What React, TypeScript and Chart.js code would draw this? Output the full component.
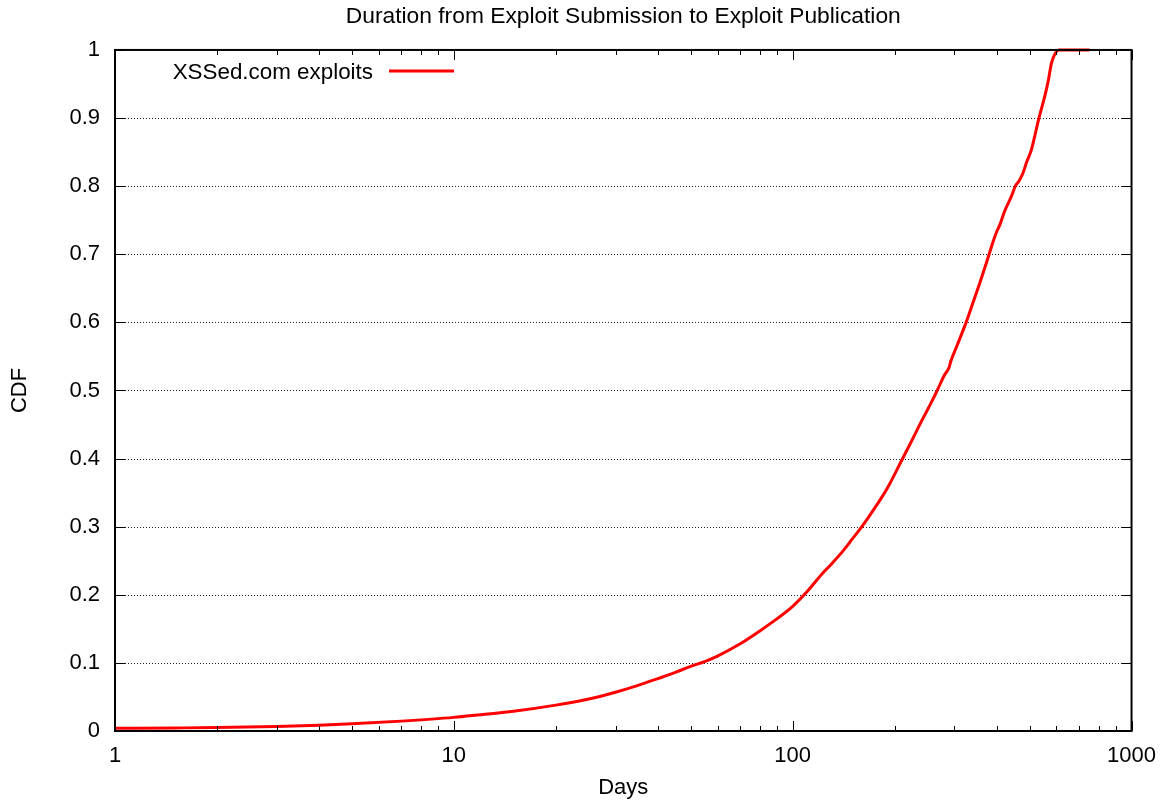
import React, { useEffect, useRef } from "react";
import Chart from "chart.js/auto";

const chartTitle = "Duration from Exploit Submission to Exploit Publication";
const seriesLabel = "XSSed.com exploits";
const xAxisTitle = "Days";
const yAxisTitle = "CDF";

const days = [1, 1.5, 2, 3, 4, 5, 7, 10, 12, 15, 20, 25, 30, 35, 40, 45, 50, 55, 60, 70, 80, 90, 100, 110, 121, 122, 130, 140, 150, 160, 175, 190, 210, 225, 240, 255, 267, 280, 290, 292, 305, 325, 340, 355, 370, 380, 390, 400, 410, 422, 442, 454, 466, 478, 490, 506, 520, 533, 554, 568, 580, 589, 600, 610, 752];
const cdf = [0.004, 0.0045, 0.005, 0.0065, 0.0085, 0.0105, 0.0145, 0.02, 0.024, 0.029, 0.038, 0.047, 0.057, 0.067, 0.077, 0.086, 0.095, 0.102, 0.11, 0.128, 0.147, 0.165, 0.183, 0.204, 0.2285, 0.2305, 0.245, 0.263, 0.282, 0.3, 0.328, 0.356, 0.398, 0.427, 0.455, 0.48, 0.5, 0.522, 0.535, 0.541, 0.565, 0.6, 0.628, 0.655, 0.682, 0.7, 0.718, 0.733, 0.745, 0.763, 0.785, 0.8, 0.808, 0.819, 0.835, 0.853, 0.877, 0.9, 0.931, 0.955, 0.98, 0.99, 0.9975, 1.0, 1.0];

const xDecades = [1, 10, 100, 1000];
const yTickValues = [0, 0.1, 0.2, 0.3, 0.4, 0.5, 0.6, 0.7, 0.8, 0.9, 1];

const FONT = "'Liberation Sans', Arial, Helvetica, sans-serif";
const RED = "#ff0000";

const framePlugin = {
  id: "gnuplotFrame",
  beforeDatasetsDraw(chart: any) {
    const { ctx, chartArea } = chart;
    const { left, right } = chartArea;
    const ys = chart.scales.y;
    ctx.save();
    ctx.strokeStyle = "#222";
    ctx.lineWidth = 1;
    ctx.setLineDash([1, 2]);
    for (const v of yTickValues) {
      if (v === 0 || v === 1) continue;
      const py = Math.round(ys.getPixelForValue(v)) + 0.5;
      ctx.beginPath();
      ctx.moveTo(left + 10, py);
      ctx.lineTo(right, py);
      ctx.stroke();
    }
    ctx.restore();
  },
  afterDraw(chart: any) {
    const { ctx, chartArea } = chart;
    const { left, right, top, bottom } = chartArea;
    const xs = chart.scales.x;
    const ys = chart.scales.y;
    ctx.save();
    ctx.strokeStyle = "#000";
    ctx.lineWidth = 1;
    const major = 10;
    const minor = 5;
    for (let i = 0; i < xDecades.length; i++) {
      const d = xDecades[i];
      for (let m = 1; m <= 9; m++) {
        if (m > 1 && i === xDecades.length - 1) break;
        const v = d * m;
        const px = Math.round(xs.getPixelForValue(v)) + 0.5;
        const len = m === 1 ? major : minor;
        ctx.beginPath();
        ctx.moveTo(px, bottom);
        ctx.lineTo(px, bottom - len);
        ctx.moveTo(px, top);
        ctx.lineTo(px, top + len);
        ctx.stroke();
      }
    }
    for (const v of yTickValues) {
      const py = Math.round(ys.getPixelForValue(v)) + 0.5;
      ctx.beginPath();
      ctx.moveTo(left, py);
      ctx.lineTo(left + major, py);
      ctx.moveTo(right, py);
      ctx.lineTo(right - major, py);
      ctx.stroke();
    }
    ctx.lineWidth = 2;
    ctx.strokeRect(left, top, right - left, bottom - top);
    ctx.font = `22.4px ${FONT}`;
    ctx.fillStyle = "#000";
    ctx.textAlign = "right";
    ctx.textBaseline = "middle";
    ctx.fillText(seriesLabel, left + 258, top + 23);
    ctx.strokeStyle = RED;
    ctx.lineWidth = 3;
    ctx.beginPath();
    ctx.moveTo(left + 274, top + 21);
    ctx.lineTo(left + 339, top + 21);
    ctx.stroke();
    ctx.restore();
  },
};

export default function App() {
  const ref = useRef<HTMLCanvasElement | null>(null);
  useEffect(() => {
    document.body.style.margin = "0";
    const canvas = ref.current;
    if (!canvas) return;
    const chart = new Chart(canvas, {
      type: "line",
      data: {
        datasets: [
          {
            label: seriesLabel,
            data: days.map((d, i) => ({ x: d, y: cdf[i] })),
            borderColor: RED,
            backgroundColor: RED,
            borderWidth: 3,
            pointRadius: 0,
            cubicInterpolationMode: "monotone",
            fill: false,
            clip: 6,
          },
        ],
      },
      options: {
        responsive: false,
        animation: false,
        devicePixelRatio: 1,
        layout: { padding: { left: 0, right: 35, top: 0, bottom: 0 } },
        plugins: {
          legend: { display: false },
          tooltip: { enabled: false },
          title: {
            display: true,
            text: chartTitle,
            fullSize: false,
            color: "#000",
            font: { family: FONT, size: 22.8, weight: "normal" },
            padding: { top: 3, bottom: 19.6 },
          },
        },
        scales: {
          x: {
            type: "logarithmic",
            min: 1,
            max: 1000,
            position: "bottom",
            grid: { display: false, drawTicks: false },
            border: { display: false },
            afterBuildTicks: (scale: any) => {
              scale.ticks = xDecades.map((v) => ({ value: v }));
            },
            afterFit: (scale: any) => {
              scale.height = 71;
            },
            ticks: {
              autoSkip: false,
              maxRotation: 0,
              minRotation: 0,
              padding: 12,
              color: "#000",
              font: { family: FONT, size: 22 },
              callback: (v: any) => String(v),
            },
            title: {
              display: true,
              text: xAxisTitle,
              color: "#000",
              font: { family: FONT, size: 22 },
              padding: { top: 0, bottom: 1 },
            },
          },
          y: {
            type: "linear",
            min: 0,
            max: 1,
            grid: { display: false, drawTicks: false },
            border: { display: false },
            afterBuildTicks: (scale: any) => {
              scale.ticks = yTickValues.map((v) => ({ value: v }));
            },
            afterFit: (scale: any) => {
              scale.width = 115;
            },
            ticks: {
              padding: 15,
              color: "#000",
              font: { family: FONT, size: 22 },
              callback: (v: any) => String(Number(Number(v).toFixed(1))),
            },
            title: {
              display: true,
              text: yAxisTitle,
              color: "#000",
              font: { family: FONT, size: 22 },
              padding: { top: 7, bottom: 0 },
            },
          },
        },
      },
      plugins: [framePlugin],
    } as any);
    return () => chart.destroy();
  }, []);
  return (
    <div style={{ width: 1168, height: 802, background: "#fff" }}>
      <canvas ref={ref} width={1168} height={802} style={{ width: 1168, height: 802, display: "block" }} />
    </div>
  );
}
